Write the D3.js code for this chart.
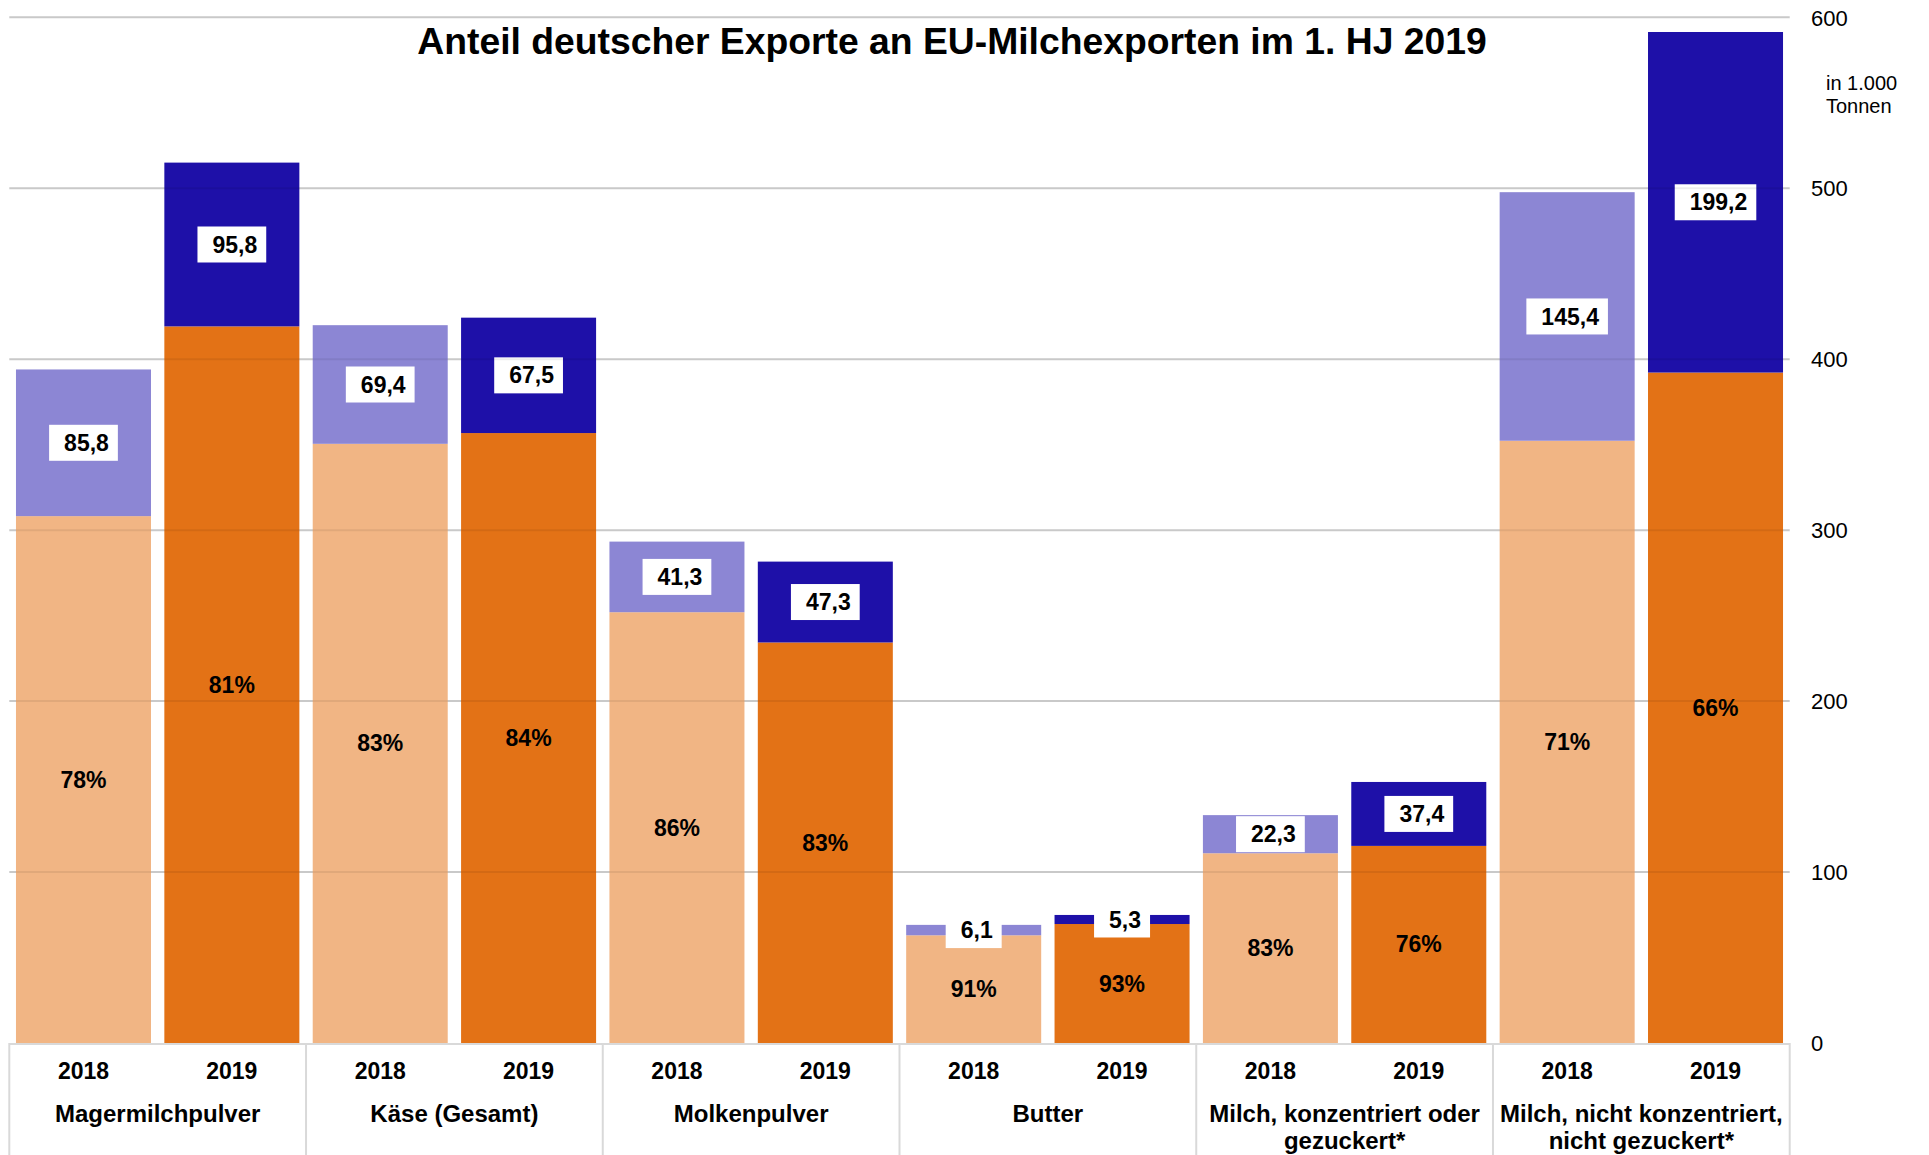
<!DOCTYPE html>
<html>
<head>
<meta charset="utf-8">
<script src="https://cdn.jsdelivr.net/npm/d3@7"></script>
<style>
  body { margin: 0; background: #fff; }
  text { font-family: "Liberation Sans", Arial, sans-serif; }
  .bold { font-weight: bold; }
</style>
</head>
<body>
<div id="chart"></div>
<script>
(function(){

  // data (in 1.000 Tonnen)
  var categories = [
    ["Magermilchpulver"],
    ["Käse (Gesamt)"],
    ["Molkenpulver"],
    ["Butter"],
    ["Milch, konzentriert oder", "gezuckert*"],
    ["Milch, nicht konzentriert,", "nicht gezuckert*"]
  ]
  var years = ["2018", "2019"]
  // rest of EU (bottom part) and Germany (top part), 12 bars
  var restEU  = [308.2, 419.2, 350.5, 356.8, 252.0, 234.3, 63.0, 69.6, 111.0, 115.3, 352.3, 392.2]
  var germany = [85.8, 95.8, 69.4, 67.5, 41.3, 47.3, 6.1, 5.3, 22.3, 37.4, 145.4, 199.2]
  var shareRest = [78, 81, 83, 84, 86, 83, 91, 93, 83, 76, 71, 66]
  var yTicks = [0, 100, 200, 300, 400, 500, 600]

  var title = "Anteil deutscher Exporte an EU-Milchexporten im 1. HJ 2019"
  var unit = ["in 1.000", "Tonnen"]

  var width = 1929, height = 1155
  var plot = { left: 9.3, right: 1789.7, top: 17.3, bottom: 1043 }

  var colors = {
    rest2018: "#F1B584", rest2019: "#E37216",
    de2018: "#8C86D4", de2019: "#1E10A8"
  }

  var de = d3.formatLocale({decimal: ",", thousands: ".", grouping: [3], currency: ["", "€"]})
  var f = de.format(".1f")

  var bars = []
  categories.forEach(function(c, ci){
    years.forEach(function(yr, yi){
      var i = ci * 2 + yi
      bars.push({ key: i, cat: ci, year: yr, yi: yi, rest: restEU[i], de: germany[i], share: shareRest[i] })
    })
  })

  var svg = d3.select("#chart").append("svg")
    .attr("width", width)
    .attr("height", height)

  var x = d3.scaleBand()
    .domain(bars.map(function(d){ return d.key }))
    .range([plot.left, plot.right])
    .paddingInner(0.09)
    .paddingOuter(0.045)

  var y = d3.scaleLinear()
    .domain([0, 600])
    .range([plot.bottom, plot.top])

  var gridTicks = yTicks.filter(function(t){ return t > 0 })

  // gridlines behind the bars
  svg.append("g")
    .selectAll("line")
    .data(gridTicks)
    .enter().append("line")
    .attr("x1", plot.left)
    .attr("x2", plot.right)
    .attr("y1", function(d){ return y(d) })
    .attr("y2", function(d){ return y(d) })
    .style("stroke", "#d9d9d9")
    .style("stroke-width", 2)

  // bars
  var g = svg.append("g")

  g.selectAll(".rest")
    .data(bars)
    .enter().append("rect")
    .attr("class", "rest")
    .attr("x", function(d){ return x(d.key) })
    .attr("width", x.bandwidth())
    .attr("y", function(d){ return y(d.rest) })
    .attr("height", function(d){ return y(0) - y(d.rest) })
    .style("fill", function(d){ return d.yi == 0 ? colors.rest2018 : colors.rest2019 })

  g.selectAll(".de")
    .data(bars)
    .enter().append("rect")
    .attr("class", "de")
    .attr("x", function(d){ return x(d.key) })
    .attr("width", x.bandwidth())
    .attr("y", function(d){ return y(d.rest + d.de) })
    .attr("height", function(d){ return y(d.rest) - y(d.rest + d.de) })
    .style("fill", function(d){ return d.yi == 0 ? colors.de2018 : colors.de2019 })

  // faint gridlines shining through the bars
  svg.append("g")
    .selectAll("line")
    .data(gridTicks)
    .enter().append("line")
    .attr("x1", plot.left)
    .attr("x2", plot.right)
    .attr("y1", function(d){ return y(d) })
    .attr("y2", function(d){ return y(d) })
    .style("stroke", "#000")
    .style("stroke-opacity", 0.07)
    .style("stroke-width", 2)

  // right axis
  var axis = svg.append("g")
    .attr("transform", "translate(1811,0)")
    .call(d3.axisRight(y).tickValues(yTicks).tickSize(0).tickPadding(0))
  axis.select(".domain").remove()
  axis.selectAll("text")
    .attr("x", 0)
    .attr("dy", "0.35em")
    .style("text-anchor", "start")
    .style("font-family", "'Liberation Sans', Arial, sans-serif")
    .style("font-size", "22px")
    .style("fill", "#000")

  svg.selectAll(".unit")
    .data(unit)
    .enter().append("text")
    .attr("class", "unit")
    .attr("x", 1826)
    .attr("y", function(d, i){ return 90 + i * 23 })
    .style("font-size", "20px")
    .text(function(d){ return d })

  // percent labels (bottom part)
  g.selectAll(".pct")
    .data(bars)
    .enter().append("text")
    .attr("class", "pct bold")
    .attr("x", function(d){ return x(d.key) + x.bandwidth() / 2 })
    .attr("y", function(d){ return (y(0) + y(d.rest)) / 2 })
    .attr("dy", "0.35em")
    .style("text-anchor", "middle")
    .style("font-size", "23px")
    .text(function(d){ return d.share + "%" })

  // german value labels in white boxes
  var lab = g.selectAll(".delab")
    .data(bars)
    .enter().append("g")
    .attr("class", "delab")
    .attr("transform", function(d){
      var cy = (y(d.rest) + y(d.rest + d.de)) / 2
      return "translate(" + (x(d.key) + x.bandwidth() / 2) + "," + cy + ")"
    })

  var boxes = lab.append("rect").style("fill", "#fff")
  var labTexts = lab.append("text")
    .attr("class", "bold")
    .attr("x", 3)
    .attr("dy", "0.35em")
    .style("text-anchor", "middle")
    .style("font-size", "23px")
    .text(function(d){ return f(d.de) })

  labTexts.each(function(d, i){
    var w = this.getComputedTextLength() + 24
    d3.select(boxes.nodes()[i])
      .attr("x", -w / 2)
      .attr("y", -18)
      .attr("width", w)
      .attr("height", 36)
  })

  // category table at the bottom
  var step = x.step()
  var divs = d3.range(categories.length + 1).map(function(i){ return plot.left + i * 2 * step })

  svg.append("line")
    .attr("x1", plot.left).attr("x2", plot.right)
    .attr("y1", plot.bottom + 1).attr("y2", plot.bottom + 1)
    .style("stroke", "#d9d9d9").style("stroke-width", 2)

  svg.selectAll(".div")
    .data(divs)
    .enter().append("line")
    .attr("class", "div")
    .attr("x1", function(d){ return d }).attr("x2", function(d){ return d })
    .attr("y1", plot.bottom).attr("y2", height)
    .style("stroke", "#d9d9d9").style("stroke-width", 2)

  svg.selectAll(".year")
    .data(bars)
    .enter().append("text")
    .attr("class", "year bold")
    .attr("x", function(d){ return x(d.key) + x.bandwidth() / 2 })
    .attr("y", 1079)
    .style("text-anchor", "middle")
    .style("font-size", "23px")
    .text(function(d){ return d.year })

  var cat = svg.selectAll(".cat")
    .data(categories)
    .enter().append("text")
    .attr("class", "cat bold")
    .attr("x", function(d, i){ return (divs[i] + divs[i + 1]) / 2 })
    .attr("y", 1122)
    .style("text-anchor", "middle")
    .style("font-size", "24px")

  cat.selectAll("tspan")
    .data(function(d){ return d })
    .enter().append("tspan")
    .attr("x", function(){ return d3.select(this.parentNode).attr("x") })
    .attr("dy", function(d, i){ return i == 0 ? 0 : 27 })
    .text(function(d){ return d })

  // title
  svg.append("text")
    .attr("class", "bold")
    .attr("x", 952)
    .attr("y", 54)
    .style("text-anchor", "middle")
    .style("font-size", "37.3px")
    .text(title)

})()
</script>
</body>
</html>
